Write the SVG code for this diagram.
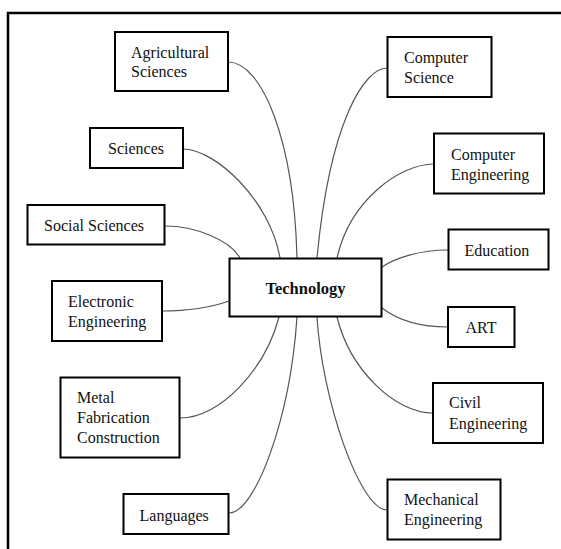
<svg xmlns="http://www.w3.org/2000/svg" width="561" height="549" viewBox="0 0 561 549">
<style>
.bg{fill:#fff}
.frame{fill:none;stroke:#000;stroke-width:2.5}
.box rect{fill:#fff;stroke:#000;stroke-width:2}
.box text{font-family:"Liberation Serif","Times New Roman",serif;font-size:16px;fill:#111}
#technology text{font-weight:bold;font-size:16.5px}
.links path{fill:none;stroke:#555;stroke-width:1.2}
</style>
<rect class="bg" x="0" y="0" width="561" height="549"/>
<path class="frame" d="M8,549 V13 H561"/>
<g class="links">
<path d="M228,62 C262,62 294,140 297,258"/>
<path d="M183,149 C215,149 270,200 280,258"/>
<path d="M165,226 C195,226 230,240 240,258"/>
<path d="M162,311 C195,311 215,306 229,301"/>
<path d="M180,418 C220,418 265,370 279,317"/>
<path d="M229,513 C255,513 290,420 297,317"/>
<path d="M387,68 C365,68 330,120 317,258"/>
<path d="M434,164 C400,164 350,200 337,258"/>
<path d="M448,250 C420,250 395,258 382,267"/>
<path d="M448,327 C415,327 395,318 382,308"/>
<path d="M433,413 C395,413 350,370 337,317"/>
<path d="M387,510 C360,510 322,400 317,317"/>
</g>
<g id="technology" class="box"><rect x="229.5" y="258.5" width="152" height="58"/><text x="305.5" y="294" text-anchor="middle">Technology</text></g>
<g id="agricultural" class="box"><rect x="115" y="32" width="113" height="59"/><text x="131" y="58">Agricultural</text><text x="131" y="77">Sciences</text></g>
<g id="sciences" class="box"><rect x="90" y="128" width="93" height="40"/><text x="136" y="154" text-anchor="middle">Sciences</text></g>
<g id="social" class="box"><rect x="27.5" y="205" width="137" height="39.5"/><text x="44" y="231">Social Sciences</text></g>
<g id="electronic" class="box"><rect x="52" y="281" width="110" height="60"/><text x="68" y="307">Electronic</text><text x="68" y="327">Engineering</text></g>
<g id="metal" class="box"><rect x="60.5" y="377.5" width="119" height="80"/><text x="77" y="403">Metal</text><text x="77" y="423">Fabrication</text><text x="77" y="443">Construction</text></g>
<g id="languages" class="box"><rect x="123.5" y="494" width="105" height="40"/><text x="139.5" y="521">Languages</text></g>
<g id="compsci" class="box"><rect x="387.5" y="37" width="104" height="60"/><text x="404" y="63">Computer</text><text x="404" y="83">Science</text></g>
<g id="compeng" class="box"><rect x="434" y="133.5" width="110" height="60"/><text x="451" y="160">Computer</text><text x="451" y="180">Engineering</text></g>
<g id="education" class="box"><rect x="448.5" y="229.5" width="100" height="40"/><text x="464.5" y="256">Education</text></g>
<g id="art" class="box"><rect x="448" y="307" width="66.5" height="40"/><text x="481" y="333" text-anchor="middle">ART</text></g>
<g id="civil" class="box"><rect x="433" y="383" width="110" height="60"/><text x="449" y="408">Civil</text><text x="449" y="429">Engineering</text></g>
<g id="mechanical" class="box"><rect x="387.5" y="479.5" width="113" height="60"/><text x="404" y="505">Mechanical</text><text x="404" y="525">Engineering</text></g>
</svg>
